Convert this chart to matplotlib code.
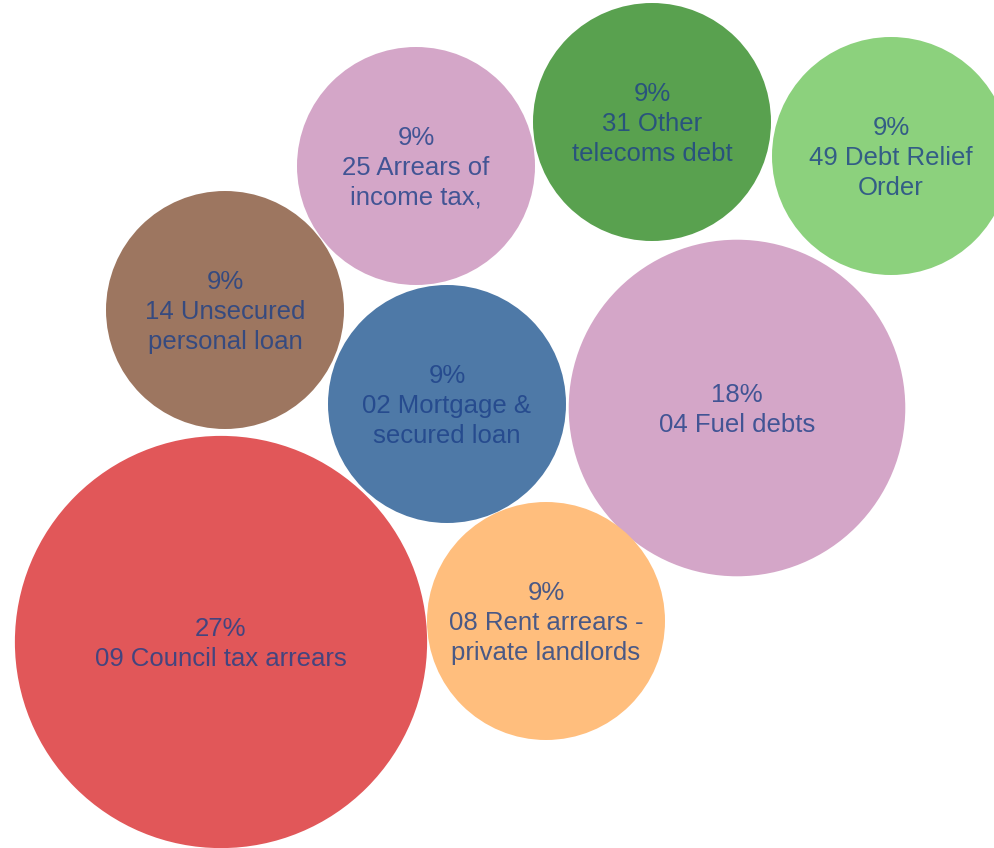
import numpy as np
import matplotlib.pyplot as plt
from matplotlib.patches import Circle

# debt categories and their share of cases (%)
labels = ["09 Council tax arrears", "04 Fuel debts", "02 Mortgage &\nsecured loan",
          "14 Unsecured\npersonal loan", "25 Arrears of\nincome tax,",
          "31 Other\ntelecoms debt", "49 Debt Relief\nOrder",
          "08 Rent arrears -\nprivate landlords"]
shares = [27, 18, 9, 9, 9, 9, 9, 9]
colors = ["#e15759", "#d4a6c8", "#4e79a7", "#9d7660", "#d4a6c8",
          "#59a14f", "#8cd17d", "#ffbe7d"]

# packed layout, pixel coordinates (y downwards)
centers = [(221, 642), (737, 408), (447, 404), (225, 310),
           (416, 166), (652, 122), (891, 156), (546, 621)]
px_per_sqrt = 119 / 3.0   # radius scale, area ~ share

W, H = 994, 848
fig = plt.figure(figsize=(W / 100, H / 100), dpi=100)
ax = fig.add_axes([0, 0, 1, 1])
ax.set_xlim(0, W)
ax.set_ylim(H, 0)
ax.set_aspect("equal")
ax.axis("off")

for lab, s, col, (cx, cy) in zip(labels, shares, colors, centers):
    r = px_per_sqrt * np.sqrt(s)
    ax.add_patch(Circle((cx, cy), r, facecolor=col, edgecolor="none"))
    ax.text(cx, cy + 2, "%d%%\n%s" % (s, lab), ha="center", va="center",
            fontsize=18.5, family="Liberation Sans", color="#1d4088",
            alpha=0.8, linespacing=1.3, multialignment="center")

fig.savefig("out.png", dpi=100)
